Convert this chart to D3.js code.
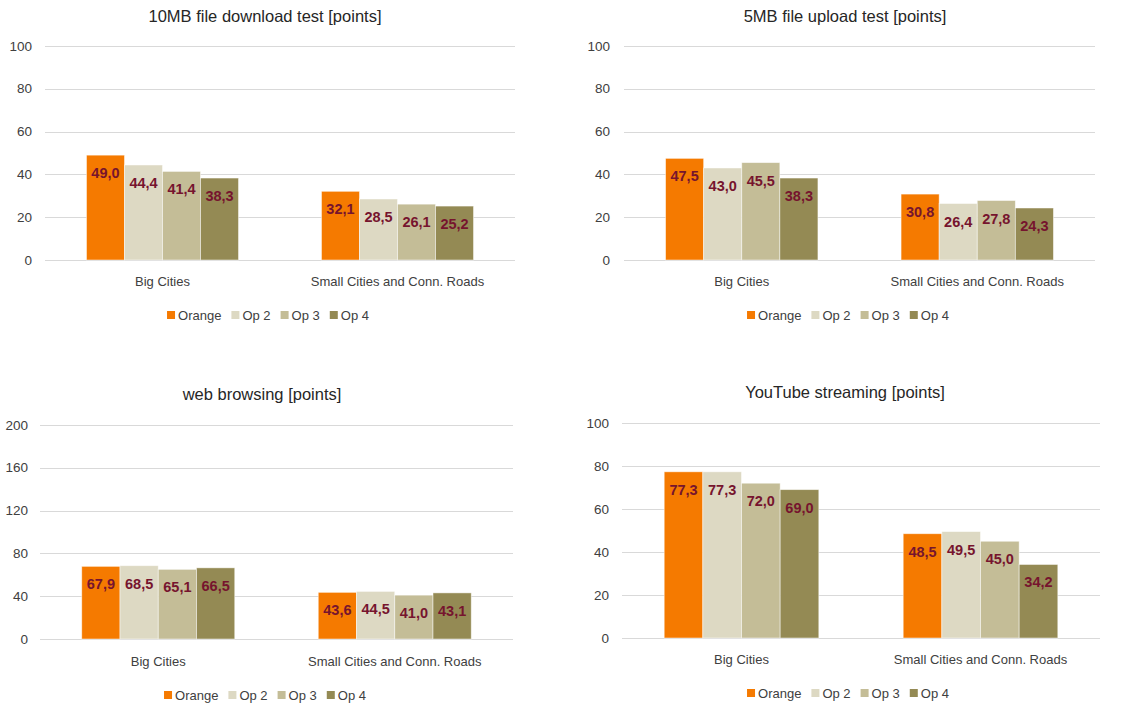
<!DOCTYPE html>
<html><head><meta charset="utf-8">
<script src="https://cdn.jsdelivr.net/npm/d3@7"></script>
<style>
body{margin:0;background:#fff;}
text{font-family:"Liberation Sans",Arial,sans-serif;}
</style></head>
<body><svg id="c" width="1139" height="706"></svg>
<script>
const categories = ["Big Cities", "Small Cities and Conn. Roads"];
const series = ["Orange", "Op 2", "Op 3", "Op 4"];
const colors = ["#F57A00", "#DDD9C3", "#C4BD97", "#948A54"];

const titles = ["10MB file download test [points]", "5MB file upload test [points]", "web browsing [points]", "YouTube streaming [points]"];

// values: per series, [Big Cities, Small Cities]
const downloadVals = [[49.0, 32.1], [44.4, 28.5], [41.4, 26.1], [38.3, 25.2]];
const uploadVals   = [[47.5, 30.8], [43.0, 26.4], [45.5, 27.8], [38.3, 24.3]];
const browsingVals = [[67.9, 43.6], [68.5, 44.5], [65.1, 41.0], [66.5, 43.1]];
const youtubeVals  = [[77.3, 48.5], [77.3, 49.5], [72.0, 45.0], [69.0, 34.2]];

const ticks100 = [0, 20, 40, 60, 80, 100];
const ticks200 = [0, 40, 80, 120, 160, 200];

const panels = [
  {vals: downloadVals, ticks: ticks100, max: 100, left: 45, right: 515, top: 46, bottom: 260, tickX: 32, titleX: 265, titleY: 16, catY: 281, legX: 268, legY: 315},
  {vals: uploadVals,   ticks: ticks100, max: 100, left: 624, right: 1095, top: 46, bottom: 260, tickX: 610, titleX: 845, titleY: 16, catY: 281, legX: 848, legY: 315},
  {vals: browsingVals, ticks: ticks200, max: 200, left: 40, right: 513, top: 425, bottom: 639, tickX: 28, titleX: 262, titleY: 394, catY: 661, legX: 265, legY: 695},
  {vals: youtubeVals,  ticks: ticks100, max: 100, left: 622, right: 1100, top: 423, bottom: 638, tickX: 609, titleX: 845, titleY: 392, catY: 659, legX: 848, legY: 693}
];

const svg = d3.select("#c");
const fmt = v => v.toFixed(1).replace(".", ",");

panels.forEach((p, pi) => {
  const g = svg.append("g");
  const y = d3.scaleLinear().domain([0, p.max]).range([p.bottom, p.top]);
  const x0 = d3.scaleBand().domain(categories).range([p.left, p.right]).paddingInner(0).paddingOuter(0);
  const bw = x0.bandwidth();
  const gw = 0.647 * bw;
  const x1 = d3.scaleBand().domain(series).range([(bw - gw) / 2, (bw + gw) / 2]).padding(0);

  g.append("text").attr("x", p.titleX).attr("y", p.titleY).attr("text-anchor", "middle")
    .attr("dominant-baseline", "central").attr("font-size", 16.5).attr("fill", "#262626").text(titles[pi]);

  g.selectAll(".grid").data(p.ticks).join("line")
    .attr("x1", p.left).attr("x2", p.right)
    .attr("y1", d => Math.round(y(d)) + 0.5).attr("y2", d => Math.round(y(d)) + 0.5)
    .attr("stroke", "#d9d9d9").attr("stroke-width", 1);

  g.selectAll(".tl").data(p.ticks).join("text")
    .attr("x", p.tickX).attr("y", d => y(d)).attr("text-anchor", "end")
    .attr("dominant-baseline", "central").attr("font-size", 13.5).attr("fill", "#404040").text(d => d);

  series.forEach((s, si) => {
    const vals = p.vals[si];
    const sg = g.append("g");
    sg.selectAll("rect").data(categories).join("rect")
      .attr("x", (c) => x0(c) + x1(s))
      .attr("width", x1.bandwidth())
      .attr("y", (c, ci) => y(vals[ci]))
      .attr("height", (c, ci) => y(0) - y(vals[ci]))
      .attr("fill", colors[si])
      .attr("stroke", "#ffffff").attr("stroke-opacity", 0.6).attr("stroke-width", 0.8);
    sg.selectAll("text").data(categories).join("text")
      .attr("x", (c) => x0(c) + x1(s) + x1.bandwidth() / 2)
      .attr("y", (c, ci) => y(vals[ci]) + 18)
      .attr("text-anchor", "middle").attr("dominant-baseline", "central")
      .attr("font-size", 14.5).attr("font-weight", "bold").attr("fill", "#76142E")
      .text((c, ci) => fmt(vals[ci]));
  });

  g.selectAll(".cat").data(categories).join("text")
    .attr("x", c => x0(c) + bw / 2).attr("y", p.catY).attr("text-anchor", "middle")
    .attr("dominant-baseline", "central").attr("font-size", 13).attr("fill", "#404040").text(c => c);

  const lg = g.append("g");
  let cx = 0;
  series.forEach((s, si) => {
    const it = lg.append("g").attr("transform", `translate(${cx},0)`);
    it.append("rect").attr("x", 0).attr("y", -4).attr("width", 8).attr("height", 8).attr("fill", colors[si]);
    const t = it.append("text").attr("x", 11).attr("y", 0).attr("dominant-baseline", "central")
      .attr("font-size", 13).attr("fill", "#404040").text(s);
    const w = t.node().getComputedTextLength();
    cx += 11 + w + 10;
  });
  const total = cx - 10;
  lg.attr("transform", `translate(${p.legX - total / 2},${p.legY})`);
});
</script></body></html>
